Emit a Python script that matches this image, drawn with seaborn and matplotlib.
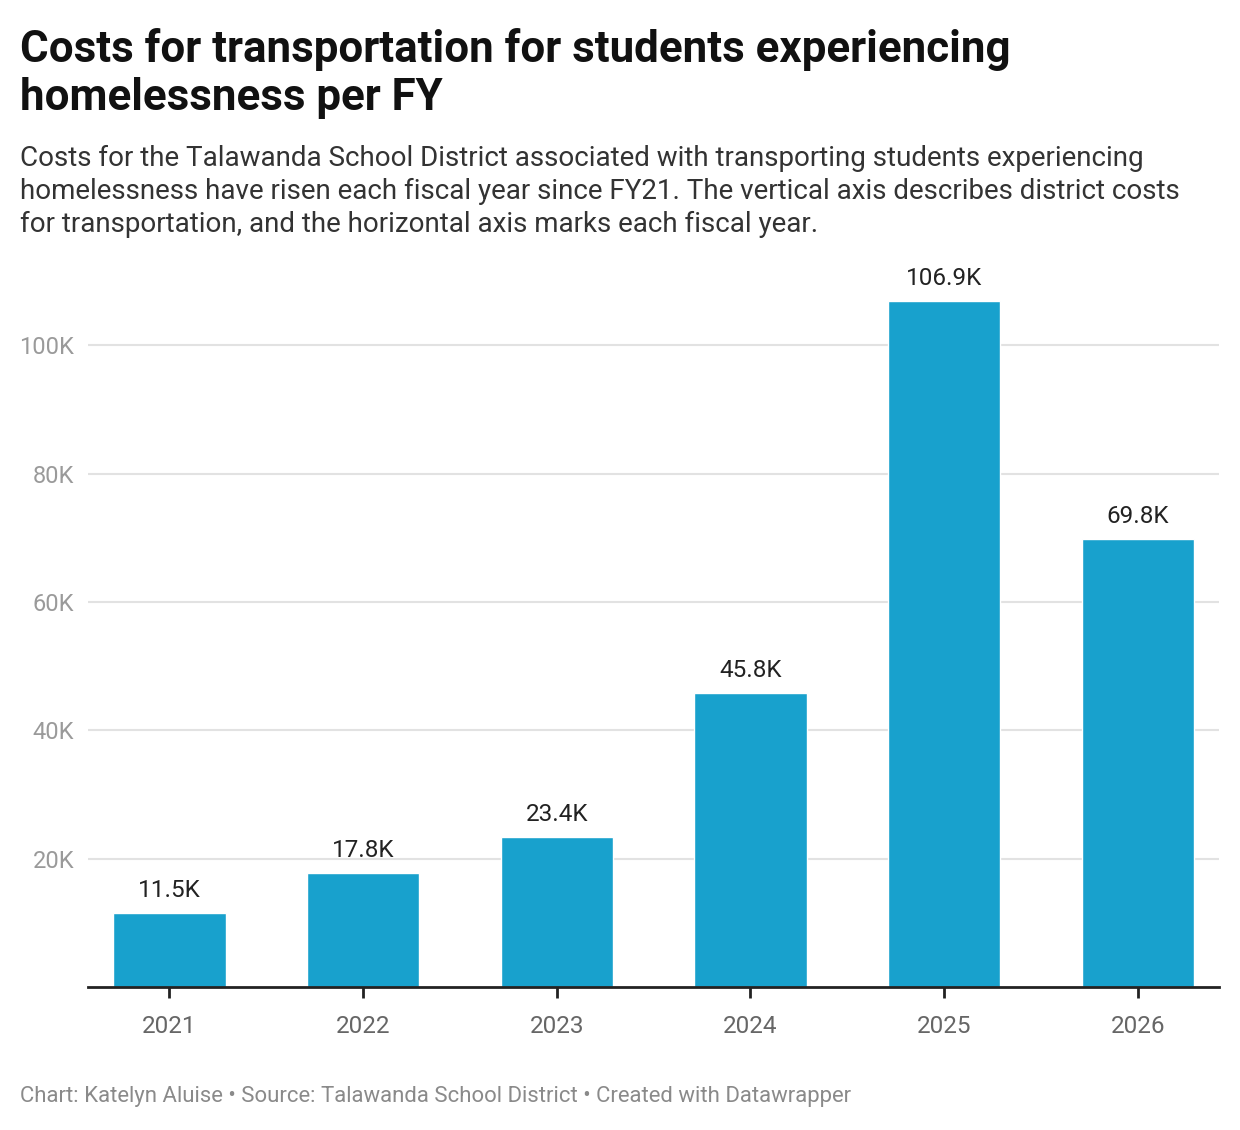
import matplotlib
matplotlib.use('Agg')
import matplotlib.pyplot as plt
import seaborn as sns
import pandas as pd
from matplotlib.ticker import FuncFormatter

# dados
years = ['2021', '2022', '2023', '2024', '2025', '2026']
costs = [11500, 17800, 23400, 45800, 106900, 69800]
value_labels = ['11.5K', '17.8K', '23.4K', '45.8K', '106.9K', '69.8K']
y_ticks = [20000, 40000, 60000, 80000, 100000]

df = pd.DataFrame({'year': years, 'cost': costs})

sns.set_theme(style='white')
plt.rcParams['font.family'] = ['Roboto', 'DejaVu Sans']

fig = plt.figure(figsize=(12.4, 11.3), dpi=100)
ax = fig.add_axes([0.071, 0.1265, 0.9121, 0.6248])

sns.barplot(data=df, x='year', y='cost', color='#18a1cd', width=0.58,
            saturation=1, ax=ax)

ax.set_xlim(-0.42, 5.42)
ax.set_ylim(0, 110000)
ax.set_yticks(y_ticks)
ax.yaxis.set_major_formatter(FuncFormatter(lambda v, p: f'{int(v/1000)}K'))
ax.grid(axis='y', color='#e2e2e2', linewidth=1.5)
ax.set_axisbelow(True)
for s in ['top', 'right', 'left']:
    ax.spines[s].set_visible(False)
ax.spines['bottom'].set_color('#222222')
ax.spines['bottom'].set_linewidth(2)
ax.set_xlabel('')
ax.set_ylabel('')
ax.tick_params(axis='y', length=0, pad=10, labelsize=17, labelcolor='#9a9a9a')
ax.tick_params(axis='x', length=8, width=2, color='#222222', pad=12,
               labelsize=17.5, labelcolor='#666666', bottom=True)

for i, (c, lab) in enumerate(zip(costs, value_labels)):
    ax.annotate(lab, (i, c), xytext=(0, 8), textcoords='offset points',
                ha='center', va='bottom', fontsize=17.5, color='#222222')

fig.text(0.016, 0.975, 'Costs for transportation for students experiencing\nhomelessness per FY',
         fontsize=31.6, fontweight='bold', color='#111111', va='top', ha='left',
         linespacing=1.17)
fig.text(0.016, 0.8717,
         'Costs for the Talawanda School District associated with transporting students experiencing\n'
         'homelessness have risen each fiscal year since FY21. The vertical axis describes district costs\n'
         'for transportation, and the horizontal axis marks each fiscal year.',
         fontsize=20, color='#333333', va='top', ha='left', linespacing=1.28)
fig.text(0.016, 0.03, 'Chart: Katelyn Aluise • Source: Talawanda School District • Created with Datawrapper',
         fontsize=15.9, color='#8a8a8a', va='center', ha='left')

fig.savefig('out.png', dpi=100, facecolor='white')
